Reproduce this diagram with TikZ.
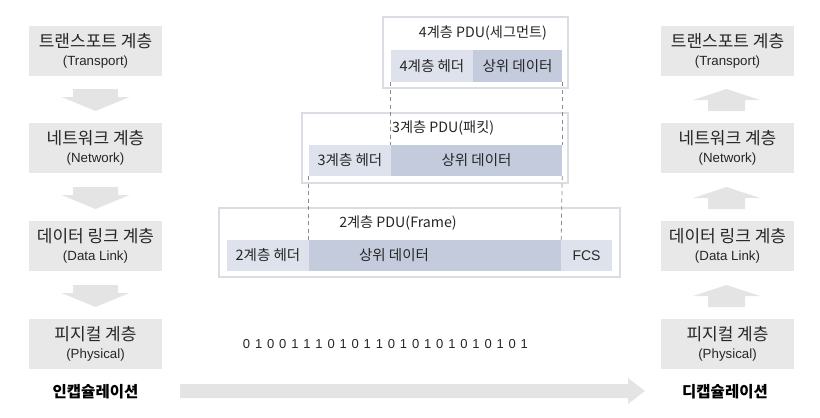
\documentclass[tikz,border=0pt]{standalone}
\usepackage{fontspec}
\setmainfont{Liberation Sans}
\newfontfamily\kr{Noto Sans CJK KR}
\usetikzlibrary{calc}
\definecolor{boxgray}{HTML}{E8E8E8}
\definecolor{arrgray}{HTML}{E4E4E4}
\definecolor{hdr}{HTML}{DEE2EC}
\definecolor{dat}{HTML}{C3CBDC}
\definecolor{frame}{HTML}{DADDE4}
\definecolor{txt}{HTML}{262626}
\definecolor{dash}{HTML}{8A8A8A}
\tikzset{
  layerbox/.style={fill=boxgray, minimum width=133pt, minimum height=50pt, inner sep=0pt, align=center, text=txt, font=\fontsize{13.3}{18}\selectfont},
  pduframe/.style={draw=frame, line width=2pt, fill=white},
  hdrcell/.style={fill=hdr, inner sep=0pt, text=txt, font=\kr\fontsize{14.5}{16}\selectfont},
  datcell/.style={fill=dat, inner sep=0pt, text=txt, font=\kr\fontsize{14.5}{16}\selectfont},
  ttl/.style={inner sep=0pt, text=txt, font=\kr\fontsize{14.2}{16}\selectfont},
  dashline/.style={draw=dash, line width=0.8pt, dash pattern=on 4pt off 3.5pt},
  downarr/.pic={\fill[arrgray] (-22.5,0) -- (22.5,0) -- (22.5,8) -- (34,8) -- (0,22) -- (-34,8) -- (-22.5,8) -- cycle;},
  uparr/.pic={\fill[arrgray] (0,0) -- (33.5,11) -- (18.5,11) -- (18.5,22) -- (-18.5,22) -- (-18.5,11) -- (-33.5,11) -- cycle;}
}
\newcommand{\lay}[2]{{\kr\fontsize{17}{18}\selectfont #1}\\{\fontsize{13.3}{18}\selectfont #2}}
\begin{document}
\begin{tikzpicture}[x=1pt,y=-1pt]
\useasboundingbox (0,0) rectangle (820,418);
% left stack
\node[layerbox] (L4) at (95.5,51) {\lay{트랜스포트 계층}{(Transport)}};
\node[layerbox] (L3) at (95.5,148) {\lay{네트워크 계층}{(Network)}};
\node[layerbox] (L2) at (95.5,246) {\lay{데이터 링크 계층}{(Data Link)}};
\node[layerbox] (L1) at (95.5,344) {\lay{피지컬 계층}{(Physical)}};
\pic at (95.5,89) {downarr};
\pic at (95.5,187) {downarr};
\pic at (95.5,285) {downarr};
\node[text=black, font=\kr\bfseries\fontsize{15.5}{17}\selectfont] (enc) at (95.5,392) {인캡슐레이션};
% right stack
\node[layerbox] (R4) at (727.5,51) {\lay{트랜스포트 계층}{(Transport)}};
\node[layerbox] (R3) at (727.5,148) {\lay{네트워크 계층}{(Network)}};
\node[layerbox] (R2) at (727.5,246) {\lay{데이터 링크 계층}{(Data Link)}};
\node[layerbox] (R1) at (727.5,344) {\lay{피지컬 계층}{(Physical)}};
\pic at (726.5,89) {uparr};
\pic at (726.5,187) {uparr};
\pic at (726.5,285) {uparr};
\node[text=black, font=\kr\bfseries\fontsize{15.5}{17}\selectfont] (dec) at (725,392) {디캡슐레이션};
% big arrow
\fill[arrgray] (180,384) -- (628,384) -- (628,378) -- (645,391) -- (628,404) -- (628,398) -- (180,398) -- cycle;
% layer 4 PDU
\draw[pduframe] (383,17) rectangle (568,88);
\node[ttl] (t4) at (483,33) {4계층 PDU(세그먼트)};
\node[hdrcell, minimum width=82pt, minimum height=32pt] (h4) at (432,66) {4계층 헤더};
\node[datcell, minimum width=89pt, minimum height=32pt] (d4) at (517.5,66) {상위 데이터};
% layer 3 PDU
\draw[pduframe] (302,113) rectangle (568,183);
\node[hdrcell, minimum width=82pt, minimum height=31pt] (h3) at (350,160.5) {3계층 헤더};
\node[datcell, minimum width=171pt, minimum height=31pt] (d3) at (476.5,160.5) {상위 데이터};
\node[ttl, anchor=west] (t3) at (392,128.5) {3계층 PDU(패킷)};
% layer 2 PDU
\draw[pduframe] (219,208) rectangle (620,277);
\node[ttl] (t2) at (398,223.5) {2계층 PDU(Frame)};
\node[hdrcell, minimum width=82pt, minimum height=31pt] (h2) at (268,255.5) {2계층 헤더};
\node[datcell, minimum width=252pt, minimum height=31pt] (d2) at (435,255.5) {};
\node[ttl, font=\kr\fontsize{14.5}{16}\selectfont] (d2t) at (394,255.5) {상위 데이터};
\node[hdrcell, minimum width=51pt, minimum height=31pt, font=\fontsize{14}{16}\selectfont] (f2) at (586.5,255.5) {FCS};
% dashed guides
\draw[dashline] (h4.south west) -- (d3.north west);
\draw[dashline] (d4.south east) -- (d3.north east);
\draw[dashline] (h3.south west) -- (d2.north west);
\draw[dashline] (d3.south east) -- (d2.north east);
% bits
\node[text=txt, inner sep=0pt, font=\fontsize{13}{15}\selectfont] (bits) at (385.5,344) {\spaceskip=4.85pt\relax 0 1 0 0 1 1 1 0 1 0 1 1 0 1 0 1 0 1 0 1 0 1 0 1};
\end{tikzpicture}
\end{document}
